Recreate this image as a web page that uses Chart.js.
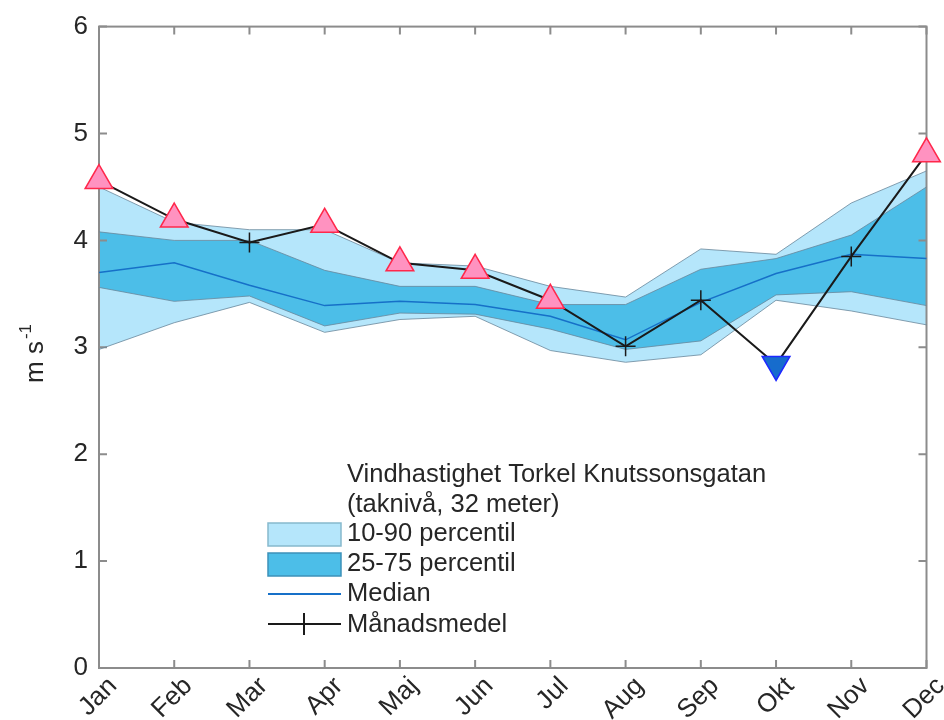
<!DOCTYPE html>
<html>
<head>
<meta charset="utf-8">
<script src="https://cdn.jsdelivr.net/npm/chart.js@4"></script>
<style>
  body { margin: 0; background: #fff; }
</style>
</head>
<body>
<canvas id="windChart" width="944" height="720"></canvas>
<script>
const months = ['Jan', 'Feb', 'Mar', 'Apr', 'Maj', 'Jun', 'Jul', 'Aug', 'Sep', 'Okt', 'Nov', 'Dec'];
const p10 = [2.98, 3.23, 3.42, 3.14, 3.26, 3.29, 2.97, 2.86, 2.93, 3.44, 3.34, 3.21];
const p25 = [3.56, 3.43, 3.48, 3.20, 3.32, 3.31, 3.17, 2.98, 3.06, 3.49, 3.52, 3.39];
const median = [3.70, 3.79, 3.58, 3.39, 3.43, 3.40, 3.29, 3.07, 3.42, 3.69, 3.87, 3.83];
const p75 = [4.08, 4.00, 4.00, 3.72, 3.57, 3.57, 3.40, 3.40, 3.73, 3.83, 4.05, 4.50];
const p90 = [4.50, 4.17, 4.10, 4.10, 3.79, 3.76, 3.57, 3.47, 3.92, 3.87, 4.35, 4.65];
const monthlyMean = [4.56, 4.20, 3.98, 4.15, 3.79, 3.72, 3.44, 3.01, 3.44, 2.84, 3.85, 4.81];
// 1 = above the 90th percentile, -1 = below the 10th, 0 = normal
const flags = [1, 1, 0, 1, 1, 1, 1, 0, 0, -1, 0, 1];
const yTicks = [0, 1, 2, 3, 4, 5, 6];

const lightBlue = 'rgb(181, 230, 251)';
const darkBlue = 'rgb(76, 190, 232)';
const medianBlue = 'rgb(22, 112, 200)';
const edgeGray = 'rgba(105, 135, 155, 0.8)';
const textColor = '#262626';
const font = "'Liberation Sans', Arial, sans-serif";

const frame = {
    id: 'frame',
    beforeDatasetsDraw(chart) {
        const { ctx, chartArea: a, scales } = chart;
        ctx.save();
        ctx.strokeStyle = '#8c8c8c';
        ctx.lineWidth = 2;
        ctx.strokeRect(a.left, a.top, a.right - a.left, a.bottom - a.top);
        ctx.beginPath();
        yTicks.forEach(v => {
            const y = scales.y.getPixelForValue(v);
            ctx.moveTo(a.left, y); ctx.lineTo(a.left + 8, y);
            ctx.moveTo(a.right, y); ctx.lineTo(a.right - 8, y);
        });
        months.forEach((m, i) => {
            const x = scales.x.getPixelForValue(i);
            ctx.moveTo(x, a.bottom); ctx.lineTo(x, a.bottom - 8);
            ctx.moveTo(x, a.top); ctx.lineTo(x, a.top + 8);
        });
        ctx.stroke();
        ctx.restore();
    },
    afterDraw(chart) {
        const ctx = chart.ctx;
        ctx.save();
        // y axis title
        ctx.translate(43, 383);
        ctx.rotate(-Math.PI / 2);
        ctx.fillStyle = textColor;
        ctx.textBaseline = 'alphabetic';
        ctx.font = '26px ' + font;
        ctx.fillText('m s', 0, 0);
        const w = ctx.measureText('m s').width;
        ctx.font = '17px ' + font;
        ctx.fillText('-1', w + 2, -12);
        ctx.restore();

        // legend
        ctx.save();
        ctx.fillStyle = textColor;
        ctx.font = '25.5px ' + font;
        ctx.textBaseline = 'alphabetic';
        ctx.fillText('Vindhastighet Torkel Knutssonsgatan', 347, 482);
        ctx.fillText('(taknivå, 32 meter)', 347, 512);
        ctx.textBaseline = 'middle';
        ctx.fillText('10-90 percentil', 347, 534);
        ctx.fillText('25-75 percentil', 347, 564);
        ctx.fillText('Median', 347, 594);
        ctx.fillText('Månadsmedel', 347, 625);

        ctx.lineWidth = 1.5;
        ctx.fillStyle = lightBlue;
        ctx.strokeStyle = 'rgb(135, 185, 205)';
        ctx.fillRect(268, 523, 73, 23);
        ctx.strokeRect(268, 523, 73, 23);
        ctx.fillStyle = darkBlue;
        ctx.strokeStyle = 'rgb(60, 145, 185)';
        ctx.fillRect(268, 553, 73, 23);
        ctx.strokeRect(268, 553, 73, 23);

        ctx.strokeStyle = medianBlue;
        ctx.lineWidth = 2;
        ctx.beginPath();
        ctx.moveTo(268, 594); ctx.lineTo(341, 594);
        ctx.stroke();

        ctx.strokeStyle = '#1a1a1a';
        ctx.lineWidth = 2;
        ctx.beginPath();
        ctx.moveTo(268, 624); ctx.lineTo(341, 624);
        ctx.moveTo(304, 613); ctx.lineTo(304, 635);
        ctx.stroke();
        ctx.restore();
    }
};

const pointStyles = flags.map(f => f === 0 ? 'cross' : 'triangle');
const pointRotations = flags.map(f => f === -1 ? 180 : 0);
const pointRadii = flags.map(f => f === 0 ? 10 : 16);
const pointFills = flags.map(f => f === 1 ? 'rgb(255, 146, 192)' : f === -1 ? 'rgb(22, 108, 205)' : '#1a1a1a');
const pointBorders = flags.map(f => f === 1 ? 'rgb(255, 40, 75)' : f === -1 ? 'rgb(30, 40, 255)' : '#1a1a1a');

function band(label, data, color, fill) {
    return {
        label: label,
        data: data,
        borderColor: edgeGray,
        borderWidth: 1,
        backgroundColor: color,
        pointRadius: 0,
        tension: 0,
        fill: fill
    };
}

new Chart(document.getElementById('windChart'), {
    type: 'line',
    data: {
        labels: months,
        datasets: [
            {
                label: 'Månadsmedel',
                data: monthlyMean,
                borderColor: '#1a1a1a',
                borderWidth: 2,
                pointStyle: pointStyles,
                pointRotation: pointRotations,
                pointRadius: pointRadii,
                pointBackgroundColor: pointFills,
                pointBorderColor: pointBorders,
                pointBorderWidth: 1.5,
                fill: false,
                clip: false
            },
            {
                label: 'Median',
                data: median,
                borderColor: medianBlue,
                borderWidth: 1.5,
                pointRadius: 0,
                fill: false
            },
            band('75 percentil', p75, darkBlue, 3),
            band('25 percentil', p25, darkBlue, false),
            band('90 percentil', p90, lightBlue, 5),
            band('10 percentil', p10, lightBlue, false)
        ]
    },
    options: {
        responsive: false,
        animation: false,
        layout: { padding: { top: 24, right: 17, left: 0, bottom: 0 } },
        plugins: {
            legend: { display: false },
            tooltip: { enabled: false },
            filler: { drawTime: 'beforeDatasetsDraw' }
        },
        scales: {
            x: {
                grid: { display: false, drawTicks: false },
                border: { display: false },
                ticks: {
                    autoSkip: false,
                    minRotation: 45,
                    maxRotation: 45,
                    padding: 3,
                    labelOffset: 14,
                    color: textColor,
                    font: { family: font, size: 26 }
                },
                afterFit(scale) {
                    scale.height = 52;
                    scale.paddingLeft = 0;
                    scale.paddingRight = 0;
                }
            },
            y: {
                min: 0,
                max: 6,
                grid: { display: false, drawTicks: false },
                border: { display: false },
                ticks: {
                    stepSize: 1,
                    padding: 11,
                    color: textColor,
                    font: { family: font, size: 26 }
                },
                afterFit(scale) {
                    scale.width = 99;
                }
            }
        }
    },
    plugins: [frame]
});
</script>
</body>
</html>
